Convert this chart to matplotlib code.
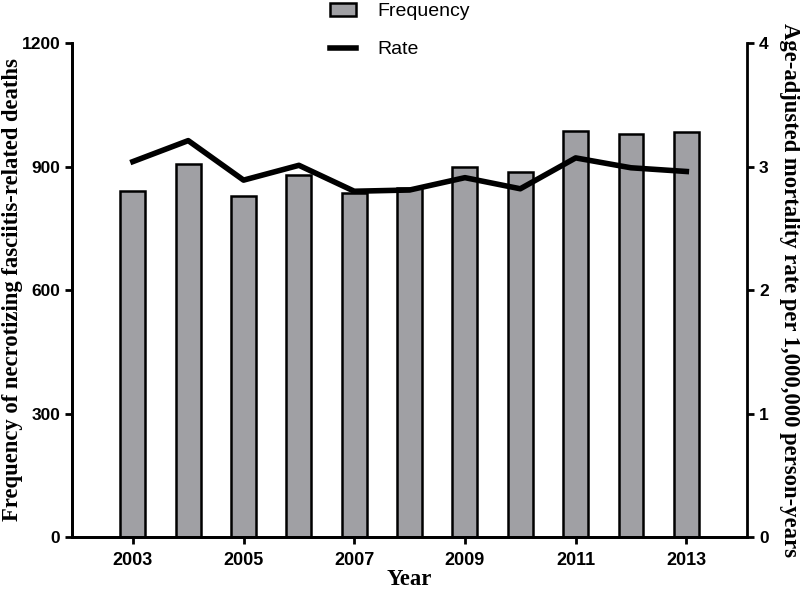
import matplotlib.pyplot as plt
from matplotlib.patches import Patch
from matplotlib.lines import Line2D

years = [2003, 2004, 2005, 2006, 2007, 2008, 2009, 2010, 2011, 2012, 2013]
frequency = [841, 905, 828, 879, 836, 849, 899, 886, 986, 979, 984]
rate = [3.04, 3.21, 2.89, 3.01, 2.80, 2.81, 2.91, 2.82, 3.07, 2.99, 2.96]

label_font = {"family": "Liberation Serif", "weight": "bold", "size": 16.3}

fig = plt.figure(figsize=(8, 5.93), dpi=100)
ax = fig.add_axes([0.09, 0.0944, 0.844, 0.833])
ax2 = ax.twinx()

ax.bar(years, frequency, width=0.45, color="#a0a0a4", edgecolor="black", linewidth=1.8)
ax2.plot(years, rate, color="black", linewidth=4)

ax.set_xlim(2001.9, 2014.1)
ax.set_ylim(0, 1200)
ax2.set_ylim(0, 4)
ax.set_xticks([2003, 2005, 2007, 2009, 2011, 2013])
ax.set_yticks([0, 300, 600, 900, 1200])
ax2.set_yticks([0, 1, 2, 3, 4])

for a in (ax, ax2):
    a.spines["top"].set_visible(False)
    for s in a.spines.values():
        s.set_linewidth(2)
    a.tick_params(width=2, length=5)
    for lab in a.get_yticklabels():
        lab.set_fontproperties({"family": "Liberation Sans", "weight": "bold", "size": 12.5})
ax.spines["right"].set_visible(False)
ax.tick_params(axis="x", pad=6)
for lab in ax.get_xticklabels():
    lab.set_fontproperties({"family": "Liberation Sans", "weight": "bold", "size": 13})

ax.set_xlabel("Year", fontdict=label_font, labelpad=0)
ax.set_ylabel("Frequency of necrotizing fasciitis-related deaths", fontdict=label_font,
              va="center", ha="center")
ax.yaxis.set_label_coords(-0.088, 0.5)
ax2.set_ylabel("Age-adjusted mortality rate per 1,000,000 person-years", fontdict=label_font,
               rotation=270, va="center", ha="center")
ax2.yaxis.set_label_coords(1.062, 0.5)

handles = [Patch(facecolor="#a0a0a4", edgecolor="black", linewidth=1.8),
           Line2D([], [], color="black", linewidth=4)]
fig.legend(handles, ["Frequency", "Rate"], loc="upper center", bbox_to_anchor=(0.5, 1.025),
           frameon=False, labelspacing=1.05, handlelength=1.3, handletextpad=1.1,
           prop={"family": "Liberation Sans", "size": 14})

fig.savefig("out.png", dpi=100)
